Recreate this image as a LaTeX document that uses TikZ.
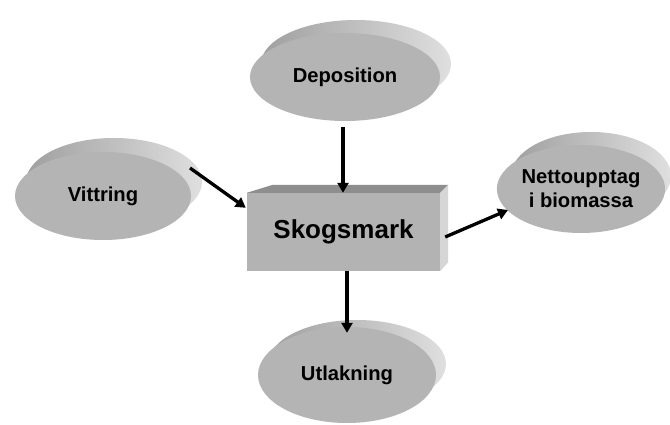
\documentclass[tikz,border=0pt]{standalone}
\usepackage{fontspec}
\setmainfont{Liberation Sans}
\usetikzlibrary{arrows.meta,calc,shapes.geometric}
\definecolor{discgray}{HTML}{B4B4B4}
\definecolor{boxfront}{HTML}{B3B3B3}
\definecolor{boxtop}{HTML}{8E8E8E}
\definecolor{boxside}{HTML}{D6D6D6}
\begin{document}
\begin{tikzpicture}[x=1pt,y=-1pt,
  disc/.style={ellipse,fill=discgray,inner sep=0pt,minimum width=#1,minimum height=88pt,
    font=\bfseries\fontsize{20.2}{23}\selectfont,align=center},
  disc/.default=180pt,
  backdisc/.style={ellipse,inner sep=0pt,minimum width=#1,minimum height=88pt,
    left color=gray!75,right color=gray!25,shading angle=90},
  backdisc/.default=180pt,
  skbox/.style={rectangle,fill=boxfront,inner sep=0pt,minimum width=193pt,minimum height=78pt,
    font=\bfseries\fontsize{26}{30}\selectfont},
  flow/.style={line width=3.3pt,-{Triangle[length=10pt,width=11pt]}}]
\useasboundingbox (0,0) rectangle (670,425);
\fill[white] (0,0) rectangle (670,425);
% back rims
\node[backdisc=190pt] (depb) at (356,64) {};
\node[backdisc=176pt] (vitb) at (114,182) {};
\node[backdisc=160pt] (netb) at (591,176) {};
\node[backdisc=178pt] (utlb) at (357,364) {};
% top faces
\node[disc=190pt] (dep) at (345,77) {Deposition};
\node[disc=176pt] (vit) at (103,196) {Vittring};
\node[disc=160pt] (net) at (581,189) {Nettoupptag\\[1pt]i biomassa};
\node[disc=178pt,minimum height=96pt] (utl) at (347,375) {Utlakning};
% box
\node[skbox] (sk) at (343.5,232) {Skogsmark};
\fill[boxtop] (sk.north west) -- ($(sk.north west)+(26,-8)$) -- ($(sk.north east)+(8,-8)$) -- (sk.north east) -- cycle;
\fill[boxside] (sk.north east) -- ($(sk.north east)+(8,-8)$) -- ($(sk.south east)+(8,-9)$) -- (sk.south east) -- cycle;
% arrows
\draw[flow] ($(dep.south)+(-2,6)$) -- ($(sk.north)+(-0.5,0)$);
\draw[flow] ($(vit.center)+(87,-28)$) -- ($(sk.north west)+(-1,15)$);
\draw[flow] ($(sk.east)+(5,5)$) -- ($(net.center)+(-73,21)$);
\draw[flow] ($(sk.south)+(3.5,0)$) -- ($(utl.north)+(0,6)$);
\end{tikzpicture}
\end{document}
